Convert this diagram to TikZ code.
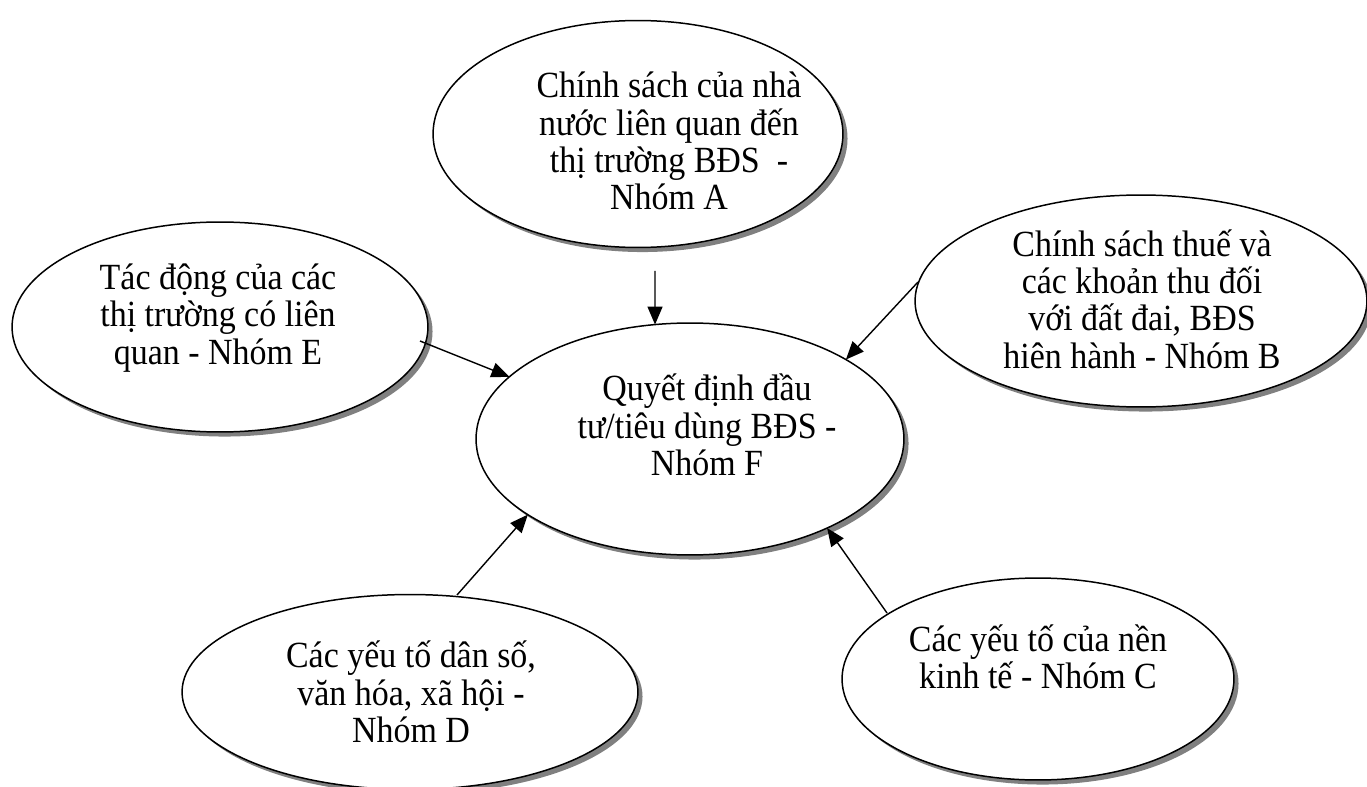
\documentclass[tikz,border=0pt]{standalone}
\usepackage{fontspec}
\setmainfont[FakeStretch=0.92]{Liberation Serif}
\usetikzlibrary{shapes.geometric,shadows,arrows.meta}
\tikzset{
  oval/.style={ellipse, draw=black, line width=0.85pt, fill=white, inner sep=0pt, outer sep=0pt,
    drop shadow={shadow xshift=2.6pt, shadow yshift=-2.6pt, fill=black!50, opacity=1}},
  lbl/.style={align=center, font=\fontsize{21pt}{21.2pt}\selectfont, inner sep=0pt},
  arr/.style={line width=0.8pt, -{Triangle[length=0.36cm, width=0.3cm]}}
}
\begin{document}
\begin{tikzpicture}[x=0.02cm, y=-0.02cm]
\useasboundingbox (0,0) rectangle (1367,787);
% ellipses
\node[oval, minimum width=8.2cm, minimum height=4.54cm] (A) at (638,134) {};
\node[oval, minimum width=8.32cm, minimum height=4.2cm] (E) at (220,327) {};
\node[oval, minimum width=8.56cm, minimum height=4.64cm] (F) at (690,439) {};
\node[oval, minimum width=9.04cm, minimum height=4.24cm] (B) at (1141,301) {};
\node[oval, minimum width=9.12cm, minimum height=3.9cm] (D) at (410,692) {};
\node[oval, minimum width=7.84cm, minimum height=4.04cm] (C) at (1038,679) {};
% texts
\node[lbl] (At) at (669,141) {Chính sách của nhà\\nước liên quan đến\\thị trường BĐS\ \ -\\Nhóm A};
\node[lbl] (Et) at (218,318) {Tác động của các\\thị trường có liên\\quan - Nhóm E};
\node[lbl] (Ft) at (707,425) {Quyết định đầu\\tư/tiêu dùng BĐS -\\Nhóm F};
\node[lbl] (Bt) at (1142,299) {Chính sách thuế và\\các khoản thu đối\\với đất đai, BĐS\\hiên hành - Nhóm B};
\node[lbl] (Dt) at (411,692) {Các yếu tố dân số,\\văn hóa, xã hội -\\Nhóm D};
\node[lbl] (Ct) at (1038,657) {Các yếu tố của nền\\kinh tế - Nhóm C};
% arrow start points
\coordinate (a0) at (655,271);
\coordinate (e0) at (420,341);
\coordinate (b0) at (918,282);
\coordinate (d0) at (457,595);
\coordinate (c0) at (887,613);
\draw[arr] (a0) -- (F.107);
\draw[arr] (e0) -- (F.161);
\draw[arr] (b0) -- (F.27);
\draw[arr] (d0) -- (F.205);
\draw[arr] (c0) -- (F.327);
\end{tikzpicture}
\end{document}
